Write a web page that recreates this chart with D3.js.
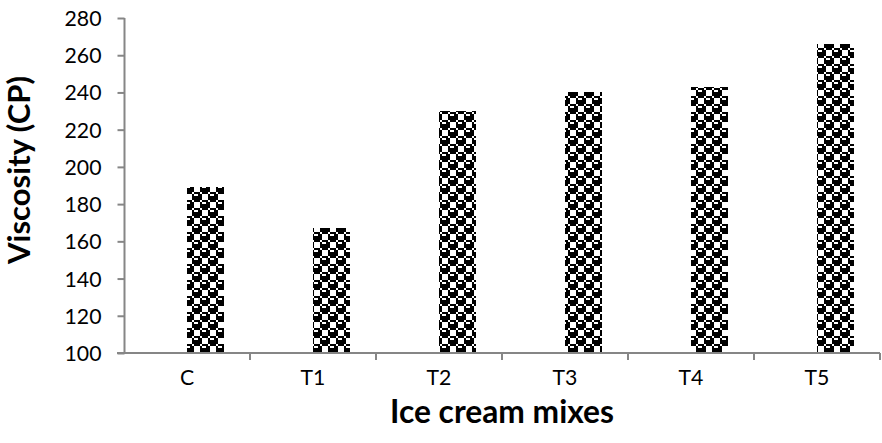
<!DOCTYPE html>
<html>
<head>
<meta charset="utf-8">
<script src="https://cdn.jsdelivr.net/npm/d3@7"></script>
<style>
  html, body { margin: 0; padding: 0; background: #fff; }
  svg { display: block; }
  text { font-family: Lato, "Open Sans", "Liberation Sans", sans-serif; fill: #000; }
</style>
</head>
<body>
<svg id="chart" width="882" height="443"></svg>
<script>
// Viscosity of ice cream mixes
const categories = ["C", "T1", "T2", "T3", "T4", "T5"];
const viscosity = [189, 167, 230, 240, 243, 266];
const yTicks = [100, 120, 140, 160, 180, 200, 220, 240, 260, 280];
const xTitle = "Ice cream mixes";
const yTitle = "Viscosity (CP)";

// 8x8 "sphere" fill bitmap, one byte per row (1 = black)
const sphereRows = [0x77, 0x98, 0xF8, 0xF8, 0x77, 0x89, 0x8F, 0x8F];
const cell = 2; // screen pixels per bitmap pixel

const W = 882, H = 443;
const m = { left: 124, right: 2, top: 18, bottom: 90 };
const svg = d3.select("#chart");

const x = d3.scaleBand().domain(categories).range([m.left, W - m.right]).padding(0);
const y = d3.scaleLinear().domain([100, 280]).range([H - m.bottom, m.top]);

// fit a text element's font size to a target width
function fitWidth(sel, target) {
  const n = sel.node();
  const fs = parseFloat(sel.attr("font-size"));
  const w = n.getComputedTextLength();
  sel.attr("font-size", (fs * target / w).toFixed(2));
}

// pattern definition
const defs = svg.append("defs");
const pat = defs.append("pattern")
  .attr("id", "sphere")
  .attr("patternUnits", "userSpaceOnUse")
  .attr("width", 8 * cell).attr("height", 8 * cell);
pat.append("rect").attr("width", 8 * cell).attr("height", 8 * cell).attr("fill", "#fff");
sphereRows.forEach((row, r) => {
  for (let c = 0; c < 8; c++) {
    if (row & (0x80 >> c)) {
      pat.append("rect").attr("x", c * cell).attr("y", r * cell)
        .attr("width", cell).attr("height", cell)
        .attr("fill", "#000").attr("shape-rendering", "crispEdges");
    }
  }
});

const axisColor = "#868686";

// bars: sit in the right half of each category slot
const barW = x.bandwidth() * 0.29;
svg.append("g").selectAll("rect")
  .data(categories.map((c, i) => ({ c, v: viscosity[i] })))
  .join("rect")
  .attr("x", d => Math.round(x(d.c) + x.bandwidth() / 2))
  .attr("y", d => Math.round(y(d.v)))
  .attr("width", Math.round(barW))
  .attr("height", d => Math.round(y(100)) - Math.round(y(d.v)))
  .attr("fill", "url(#sphere)")
  .attr("shape-rendering", "crispEdges");

// y axis
const yAxis = d3.axisLeft(y).tickValues(yTicks).tickSize(7).tickPadding(16).tickFormat(d3.format("d"));
const gy = svg.append("g").attr("transform", `translate(${m.left + 0.5},0)`).call(yAxis);
gy.select(".domain").attr("stroke", axisColor).attr("stroke-width", 2).attr("d", `M0,${y(280)}V${y(100)}`);
gy.selectAll(".tick line").attr("stroke", axisColor).attr("stroke-width", 2);
gy.selectAll(".tick text").attr("font-size", 21).attr("fill", "#000").attr("dy", "0.35em");
// size tick labels so "280" spans ~37px
const tickText = gy.selectAll(".tick text").filter(d => d === 280);
const tfs = 21 * 37 / tickText.node().getComputedTextLength();
gy.selectAll(".tick text").attr("font-size", tfs.toFixed(2));

// x axis: ticks at category boundaries, labels at centers
const gx = svg.append("g").attr("transform", `translate(0,${y(100)})`);
gx.append("line")
  .attr("x1", m.left - 7).attr("x2", W - m.right)
  .attr("stroke", axisColor).attr("stroke-width", 2);
const bounds = categories.map(c => x(c) + x.bandwidth());
gx.selectAll("line.tk").data(bounds).join("line").attr("class", "tk")
  .attr("x1", d => d).attr("x2", d => d).attr("y1", 0).attr("y2", 7)
  .attr("stroke", axisColor).attr("stroke-width", 2);
gx.selectAll("text").data(categories).join("text")
  .attr("x", d => x(d) + x.bandwidth() / 2)
  .attr("y", 32)
  .attr("text-anchor", "middle")
  .attr("font-size", tfs.toFixed(2))
  .text(d => d);

// titles
const xt = svg.append("text")
  .attr("x", (m.left + W - m.right) / 2)
  .attr("y", 423)
  .attr("text-anchor", "middle")
  .attr("font-size", 21).attr("font-weight", "bold")
  .text(xTitle);
fitWidth(xt, 224);
const yt = svg.append("text")
  .attr("transform", `translate(30,170) rotate(-90)`)
  .attr("text-anchor", "middle")
  .attr("font-size", 21).attr("font-weight", "bold")
  .text(yTitle);
fitWidth(yt, 188);
</script>
</body>
</html>
